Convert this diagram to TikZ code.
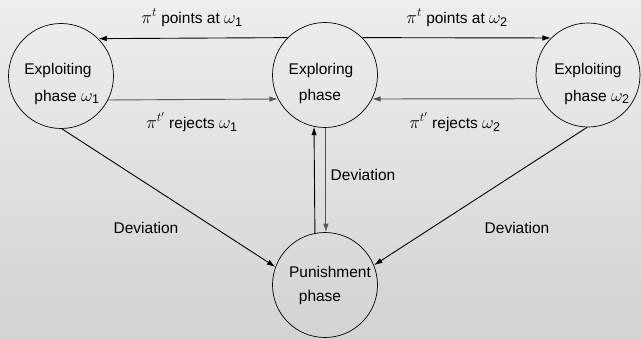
\RequirePackage{fix-cm}
\documentclass[tikz,border=0pt]{standalone}
\usepackage{amsmath}
\usepackage{fontspec}
\setmainfont{Liberation Sans}
\DeclareMathSizes{15.5}{18}{12.6}{9}
\usetikzlibrary{arrows.meta}
\definecolor{bgtop}{RGB}{238,238,238}
\definecolor{bgbot}{RGB}{211,211,211}
\definecolor{lgray}{RGB}{85,85,85}
\tikzset{
  phase/.style={circle, draw=black, line width=0.7pt, minimum size=105pt, inner sep=0pt},
  lbl/.style={font=\fontsize{15.5}{18}\selectfont, inner sep=0pt},
  arr/.style={line width=0.9pt, -{Latex[length=8.5pt,width=5.5pt]}},
  garr/.style={arr, draw=lgray},
}
\begin{document}
\begin{tikzpicture}[x=1pt,y=-1pt]
\shade[top color=bgtop, bottom color=bgbot] (0,0) rectangle (641,339);
\useasboundingbox (0,0) rectangle (641,339);

\node[phase] (L) at (61,76) {};
\node[phase] (M) at (325,75) {};
\node[phase, minimum size=104pt] (R) at (588,75) {};
\node[phase] (P) at (325,285) {};

\node[lbl] (Lt1) at (58,70) {Exploiting};
\node[lbl] (Lt2) at (67,97) {phase $\omega_{\text{1}}$};
\node[lbl] (Mt1) at (321,70) {Exploring};
\node[lbl] (Mt2) at (320,96) {phase};
\node[lbl] (Rt1) at (588,70) {Exploiting};
\node[lbl] (Rt2) at (597,97) {phase $\omega_{\text{2}}$};
\node[lbl] (Pt1) at (330,272) {Punishment};
\node[lbl] (Pt2) at (320,297) {phase};

\draw[arr] (M.135) -- (L.45);
\draw[arr] (M.45) -- (R.135);
\draw[garr] (L.-27) -- (M.207);
\draw[garr] (R.207) -- (M.-27);
\draw[arr] (P.101.5) -- (M.258.5);
\draw[garr] (M.-89) -- (P.89);
\draw[arr] (L.-89) -- (P.160);
\draw[arr] (R.-91) -- (P.22);

\node[lbl] (a1) at (192,18) {$\pi^{t}$ points at $\omega_{\text{1}}$};
\node[lbl] (a2) at (457,18) {$\pi^{t}$ points at $\omega_{\text{2}}$};
\node[lbl] (a3) at (192,122) {$\pi^{t'}$ rejects $\omega_{\text{1}}$};
\node[lbl] (a4) at (455,122) {$\pi^{t'}$ rejects $\omega_{\text{2}}$};
\node[lbl] (d1) at (363,175) {Deviation};
\node[lbl] (d2) at (146,228) {Deviation};
\node[lbl] (d3) at (517,228) {Deviation};
\end{tikzpicture}
\end{document}
